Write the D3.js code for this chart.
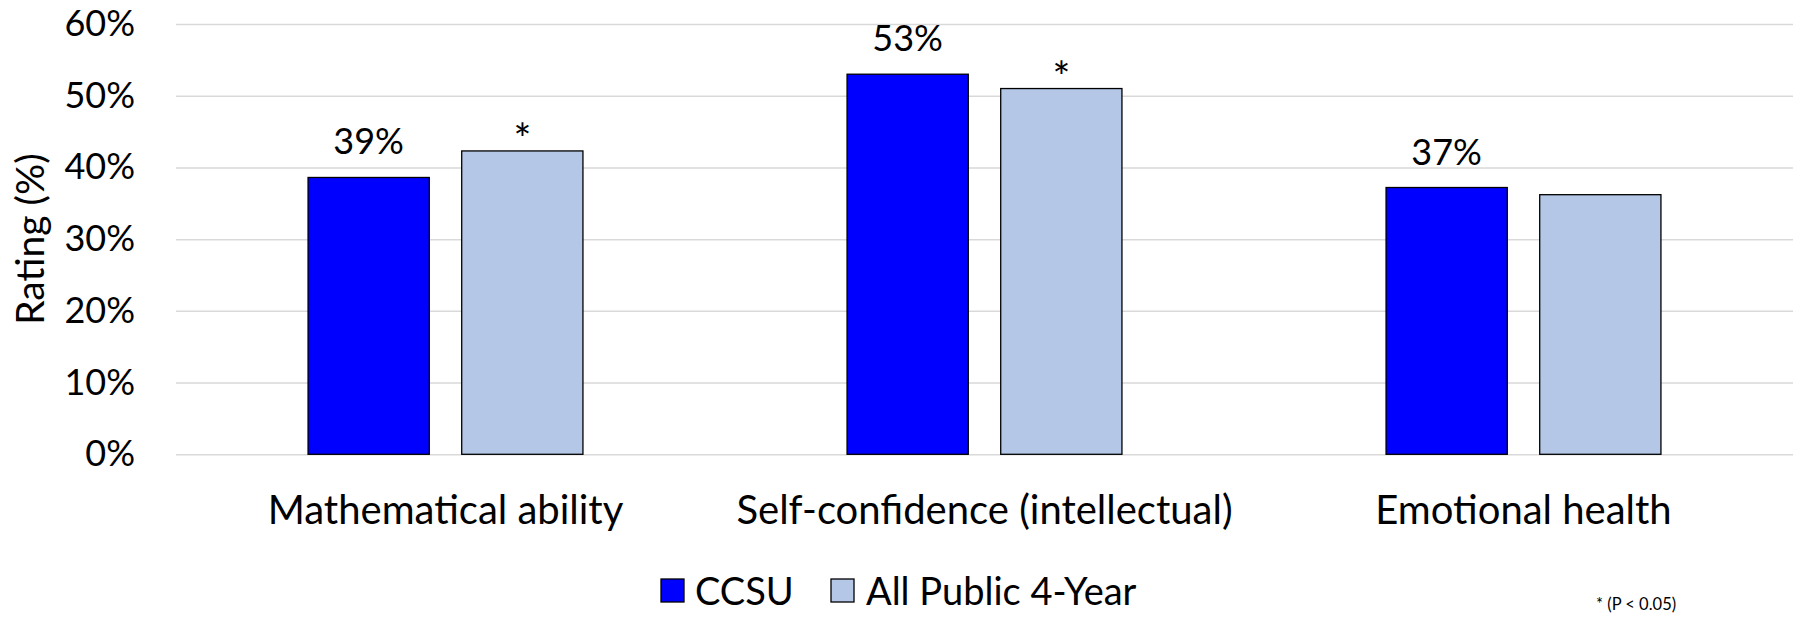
<!DOCTYPE html>
<html>
<head>
<meta charset="utf-8">
<script src="https://cdn.jsdelivr.net/npm/d3@7"></script>
<style>
  html, body { margin: 0; padding: 0; background: #fff; }
  svg { display: block; font-family: Lato, "Open Sans", sans-serif; }
</style>
</head>
<body>
<svg id="chart" width="1800" height="618"></svg>
<script>
// ---- data ----
const categories = ["Mathematical ability", "Self-confidence (intellectual)", "Emotional health"];
const seriesNames = ["CCSU", "All Public 4-Year"];
const ccsuValues = [38.6, 53.0, 37.2];
const publicValues = [42.3, 51.0, 36.2];
const significant = [true, true, false];
const yTicks = [0, 10, 20, 30, 40, 50, 60];
const seriesColors = ["#0000FF", "#B4C7E7"];
const yTitle = "Rating (%)";
const footnote = "* (P < 0.05)";

// ---- layout ----
const svg = d3.select("#chart");
const plotLeft = 176, plotRight = 1793, plotTop = 24, plotBottom = 454.3;
const fontSize = 36;

const x0 = d3.scaleBand().domain(categories).range([plotLeft, plotRight])
  .paddingInner(0.49).paddingOuter(0.245);
const x1 = d3.scaleBand().domain(seriesNames).range([0, x0.bandwidth()])
  .paddingInner(0.211).paddingOuter(0);
const y = d3.scaleLinear().domain([0, 60]).range([plotBottom, plotTop]);

// gridlines + y tick labels
const yAxis = d3.axisLeft(y).tickValues(yTicks)
  .tickSizeInner(-(plotRight - plotLeft)).tickSizeOuter(0).tickPadding(41)
  .tickFormat(d => d + "%");
const gy = svg.append("g").attr("transform", `translate(${plotLeft},0)`).call(yAxis);
gy.select(".domain").remove();
gy.selectAll(".tick line").attr("stroke", "#D9D9D9").attr("stroke-width", 1.5);
gy.selectAll(".tick text").attr("fill", "#000").attr("font-size", fontSize)
  .attr("font-family", "Lato, 'Open Sans', sans-serif");

// y title
svg.append("text")
  .attr("transform", `translate(44,${(plotTop + plotBottom) / 2}) rotate(-90)`)
  .attr("text-anchor", "middle")
  .attr("font-size", 39)
  .attr("fill", "#000")
  .text(yTitle);

// bars
const rows = categories.map((c, i) => ({cat: c, vals: [ccsuValues[i], publicValues[i]], sig: significant[i]}));
const groups = svg.append("g").selectAll("g").data(rows).join("g")
  .attr("transform", d => `translate(${x0(d.cat)},0)`);

groups.selectAll("rect").data(d => d.vals.map((v, j) => ({s: seriesNames[j], v, j}))).join("rect")
  .attr("x", d => x1(d.s))
  .attr("y", d => y(d.v))
  .attr("width", x1.bandwidth())
  .attr("height", d => y(0) - y(d.v))
  .attr("fill", d => seriesColors[d.j])
  .attr("stroke", "#000")
  .attr("stroke-width", 1.3);

// CCSU value labels
groups.append("text")
  .attr("x", x1(seriesNames[0]) + x1.bandwidth() / 2)
  .attr("y", d => y(d.vals[0]) - 23)
  .attr("text-anchor", "middle")
  .attr("font-size", fontSize)
  .attr("fill", "#000")
  .text(d => Math.round(d.vals[0]) + "%");

// significance asterisks
groups.filter(d => d.sig).append("text")
  .attr("x", x1(seriesNames[1]) + x1.bandwidth() / 2)
  .attr("y", d => y(d.vals[1]) + 3)
  .attr("text-anchor", "middle")
  .attr("font-size", 42)
  .attr("fill", "#000")
  .text("*");

// category labels
const xAxis = d3.axisBottom(x0).tickSize(0).tickPadding(0);
const gx = svg.append("g").call(xAxis);
gx.select(".domain").remove();
gx.selectAll(".tick text")
  .attr("y", 524).attr("dy", null)
  .attr("font-size", 40)
  .attr("font-family", "Lato, 'Open Sans', sans-serif")
  .attr("fill", "#000");

// legend
const legendPos = [{bx: 661, tx: 695}, {bx: 831, tx: 866}];
const lg = svg.append("g").selectAll("g").data(seriesNames).join("g");
lg.append("rect")
  .attr("x", (d, i) => legendPos[i].bx)
  .attr("y", 579)
  .attr("width", 23).attr("height", 23)
  .attr("fill", (d, i) => seriesColors[i])
  .attr("stroke", "#000").attr("stroke-width", 1.3);
lg.append("text")
  .attr("x", (d, i) => legendPos[i].tx)
  .attr("y", 605)
  .attr("font-size", 38)
  .attr("fill", "#000")
  .text(d => d);

// footnote
svg.append("text")
  .attr("x", 1596).attr("y", 610)
  .attr("font-size", 16.5)
  .attr("fill", "#000")
  .text(footnote);
</script>
</body>
</html>
